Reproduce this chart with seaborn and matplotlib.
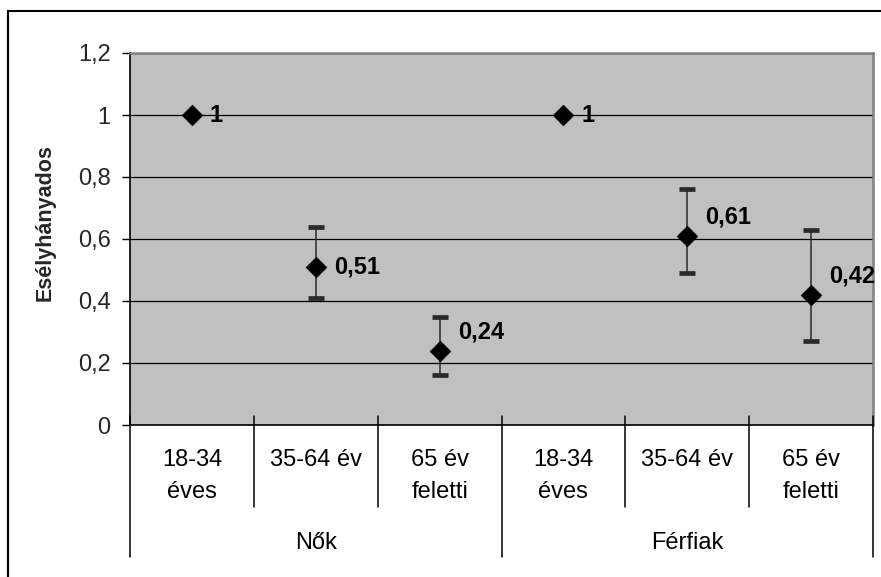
import numpy as np
import pandas as pd
import matplotlib
matplotlib.use("Agg")
import matplotlib.pyplot as plt
import matplotlib.patches as mpatches
import seaborn as sns

# --- data -------------------------------------------------------------
groups = ["Nők", "Férfiak"]
age_labels = ["18-34\néves", "35-64 év", "65 év\nfeletti"]
odds_ratio = [1.0, 0.51, 0.24, 1.0, 0.61, 0.42]
ci_lower = [np.nan, 0.41, 0.16, np.nan, 0.49, 0.27]
ci_upper = [np.nan, 0.64, 0.35, np.nan, 0.76, 0.63]
value_labels = ["1", "0,51", "0,24", "1", "0,61", "0,42"]
y_ticks = [0, 0.2, 0.4, 0.6, 0.8, 1.0, 1.2]
y_tick_labels = ["0", "0,2", "0,4", "0,6", "0,8", "1", "1,2"]

# label placement: which value labels sit slightly above their marker
label_raised = [False, False, True, False, True, True]

# --- styling ----------------------------------------------------------
sns.set_style("white")
plt.rcParams["font.family"] = ["Liberation Sans", "DejaVu Sans"]

df = pd.DataFrame({
    "pos": np.arange(len(odds_ratio)),
    "group": np.repeat(groups, len(age_labels)),
    "age": age_labels * len(groups),
    "value": odds_ratio,
    "lo": ci_lower,
    "hi": ci_upper,
})

fig = plt.figure(figsize=(8.81, 5.77), dpi=100)
ax = fig.add_axes([130 / 881, 1 - 425 / 577, 743 / 881, 372 / 577])
ax.set_facecolor("#C0C0C0")

# confidence intervals
ci = df.dropna(subset=["lo", "hi"])
ax.errorbar(ci["pos"], ci["value"],
            yerr=[ci["value"] - ci["lo"], ci["hi"] - ci["value"]],
            fmt="none", ecolor="#2a2a2a", elinewidth=1.1,
            capsize=5.8, capthick=3.4, zorder=3)

# point estimates
sns.scatterplot(data=df, x="pos", y="value", marker="D", s=110,
                color="black", edgecolor="black", linewidth=0.5,
                ax=ax, zorder=4, legend=False)

# value labels
for (_, row), txt, up in zip(df.iterrows(), value_labels, label_raised):
    ax.annotate(txt, (row["pos"], row["value"]),
                xytext=(13, 13.5 if up else 0), textcoords="offset points",
                ha="left", va="center", fontsize=17, fontweight="bold",
                color="black", zorder=5)

# axes
ax.set_xlim(-0.5, len(odds_ratio) - 0.5)
ax.set_ylim(0, 1.2)
ax.set_yticks(y_ticks, y_tick_labels)
ax.set_xticks([])
ax.set_xlabel("")
ax.yaxis.grid(True, color="black", linewidth=0.9)
ax.xaxis.grid(False)
ax.set_axisbelow(True)
ax.tick_params(axis="y", length=6, width=1, pad=8, labelsize=17,
               color="black", direction="out", left=True)

for side in ("left", "bottom"):
    ax.spines[side].set_color("black")
    ax.spines[side].set_linewidth(1.2)
for side in ("top", "right"):
    ax.spines[side].set_color("#808080")
    ax.spines[side].set_linewidth(1.8)

ax.set_ylabel("Esélyhányados", fontsize=15.5, fontweight="bold")
ax.yaxis.set_label_coords(-0.1, 0.545)

# category axis: two-level labels with separator lines
trans = ax.get_xaxis_transform()
n_age = len(age_labels)
n_cat = len(odds_ratio)
for b in range(n_cat + 1):
    xb = b - 0.5
    bottom = -0.355 if b % n_age == 0 else -0.221
    ax.plot([xb, xb], [0.024, bottom], transform=trans, color="black",
            linewidth=1.1, clip_on=False, zorder=6)

for i, lab in enumerate(df["age"]):
    for k, line in enumerate(lab.split("\n")):
        ax.text(i, -0.094 - k * 0.085, line, transform=trans,
                ha="center", va="center", fontsize=17, color="black")

for g, name in enumerate(groups):
    ax.text(g * n_age + (n_age - 1) / 2, -0.317, name, transform=trans,
            ha="center", va="center", fontsize=17, color="black")

# outer chart frame
fig.add_artist(mpatches.Rectangle((8 / 881, -0.1), 1.2, 1.1 - 11 / 577,
                                  transform=fig.transFigure, fill=False,
                                  edgecolor="black", linewidth=1.5))

fig.savefig("out.png", dpi=100)
